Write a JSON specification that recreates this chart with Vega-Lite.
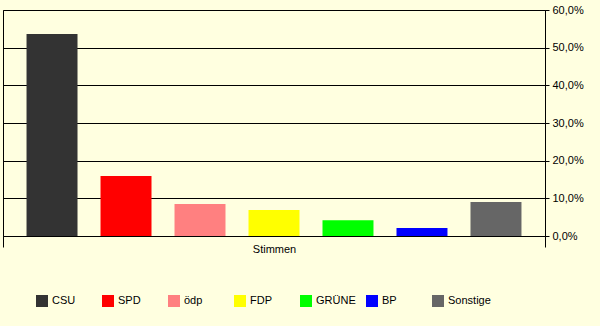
{
  "$schema": "https://vega.github.io/schema/vega-lite/v6.json",
  "width": 542,
  "height": 226,
  "autosize": {"type": "none"},
  "padding": {"left": 3, "top": 10, "right": 55, "bottom": 90},
  "background": "#FFFFE0",
  "data": {
    "values": [
      {"cat": "Stimmen", "party": "CSU", "share": 0.536},
      {"cat": "Stimmen", "party": "SPD", "share": 0.159},
      {"cat": "Stimmen", "party": "ödp", "share": 0.085},
      {"cat": "Stimmen", "party": "FDP", "share": 0.069},
      {"cat": "Stimmen", "party": "GRÜNE", "share": 0.042},
      {"cat": "Stimmen", "party": "BP", "share": 0.021},
      {"cat": "Stimmen", "party": "Sonstige", "share": 0.090}
    ]
  },
  "mark": {"type": "bar"},
  "encoding": {
    "x": {
      "field": "cat",
      "type": "nominal",
      "scale": {"paddingInner": 0, "paddingOuter": 0},
      "axis": {
        "title": null,
        "labelAngle": 0,
        "tickBand": "extent",
        "tickSize": 11,
        "tickColor": "#000000",
        "domainColor": "#000000",
        "labelPadding": -4,
        "labelFont": "Liberation Sans",
        "labelFontSize": 11,
        "labelColor": "#000000"
      }
    },
    "xOffset": {
      "field": "party",
      "type": "nominal",
      "sort": ["CSU", "SPD", "ödp", "FDP", "GRÜNE", "BP", "Sonstige"],
      "scale": {"paddingInner": 0.311, "paddingOuter": 0.318}
    },
    "y": {
      "field": "share",
      "type": "quantitative",
      "scale": {"domain": [0, 0.6], "nice": false},
      "axis": {
        "orient": "right",
        "title": null,
        "values": [0, 0.1, 0.2, 0.3, 0.4, 0.5, 0.6],
        "labelExpr": "replace(format(datum.value, '.1%'), '.', ',')",
        "grid": true,
        "gridColor": "#000000",
        "gridOpacity": 1,
        "domainColor": "#000000",
        "tickColor": "#000000",
        "tickSize": 4,
        "labelPadding": 3,
        "labelFont": "Liberation Sans",
        "labelFontSize": 11,
        "labelColor": "#000000"
      }
    },
    "color": {
      "field": "party",
      "type": "nominal",
      "sort": ["CSU", "SPD", "ödp", "FDP", "GRÜNE", "BP", "Sonstige"],
      "scale": {
        "domain": ["CSU", "SPD", "ödp", "FDP", "GRÜNE", "BP", "Sonstige"],
        "range": ["#333333", "#FF0000", "#FF8080", "#FFFF00", "#00FF00", "#0000FF", "#666666"]
      },
      "legend": {
        "title": null,
        "orient": "none",
        "direction": "horizontal",
        "columns": 7,
        "legendX": 33,
        "legendY": 285,
        "gridAlign": "all",
        "columnPadding": 7,
        "symbolType": "square",
        "symbolSize": 144,
        "symbolStrokeWidth": 0,
        "symbolOpacity": 1,
        "labelOffset": 4,
        "labelFont": "Liberation Sans",
        "labelFontSize": 11,
        "labelColor": "#000000"
      }
    }
  },
  "config": {
    "view": {"stroke": "#000000", "strokeWidth": 1},
    "axis": {"domainWidth": 1, "tickWidth": 1, "gridWidth": 1}
  }
}
